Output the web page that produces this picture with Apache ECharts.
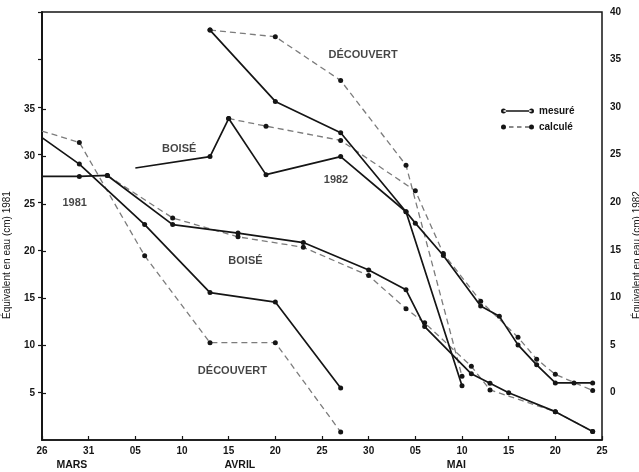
<!DOCTYPE html>
<html><head><meta charset="utf-8">
<script src="https://cdn.jsdelivr.net/npm/echarts@6/dist/echarts.min.js"></script>
<style>html,body{margin:0;padding:0;background:#fff}#c{width:639px;height:472px}</style>
</head><body><div id="c"></div>
<script>
// x = days since 26 March
const xTickLabels = ['26','31','05','10','15','20','25','30','05','10','15','20','25'];
const monthNames = ['MARS','AVRIL','MAI'];
const monthDays = [3.2, 21.2, 44.4];
const leftTicks = [5,10,15,20,25,30,35];
const rightTicks = [0,5,10,15,20,25,30,35,40];

// 1981 (left axis)
const boise81MesDays = [0, 4, 7, 14, 21, 28, 35, 39, 41, 46, 48, 50, 55, 59];
const boise81MesVals = [27.9, 27.9, 28.0, 22.8, 21.9, 20.9, 18.0, 15.9, 12.0, 7.0, 6.0, 5.0, 3.0, 0.9];
const boise81CalDays = [7, 14, 21, 28, 35, 39, 41, 46, 48, 55, 59];
const boise81CalVals = [28.0, 23.5, 21.5, 20.4, 17.4, 13.9, 12.4, 7.8, 5.3, 3.0, 0.9];
const decouv81MesDays = [0, 4, 11, 18, 25, 32];
const decouv81MesVals = [32.0, 29.2, 22.8, 15.6, 14.6, 5.5];
const decouv81CalDays = [0, 4, 11, 18, 25, 32];
const decouv81CalVals = [32.7, 31.5, 19.5, 10.3, 10.3, 0.85];

// 1982 (right axis)
const decouv82MesDays = [18, 25, 32, 39, 45];
const decouv82MesVals = [38.1, 30.6, 27.3, 19.0, 0.7];
const decouv82CalDays = [18, 25, 32, 39, 45];
const decouv82CalVals = [38.1, 37.4, 32.8, 23.9, 1.7];
const boise82MesDays = [10, 18, 20, 24, 32, 39, 40, 43, 47, 49, 51, 53, 55, 57, 59];
const boise82MesVals = [23.6, 24.8, 28.8, 22.9, 24.8, 19.0, 17.8, 14.4, 9.1, 8.0, 5.0, 2.9, 1.0, 1.0, 1.0];
const boise82CalDays = [20, 24, 32, 40, 43, 47, 51, 53, 55, 59];
const boise82CalVals = [28.8, 28.0, 26.5, 21.2, 14.6, 9.6, 5.8, 3.5, 1.9, 0.2];

// text annotations (left-axis coordinates)
const annotDays = [34.4, 14.7, 31.5, 3.5, 21.8, 20.4];
const annotVals = [40.7, 30.8, 27.5, 25.1, 18.9, 7.3];
const annotTexts = ['DÉCOUVERT', 'BOISÉ', '1982', '1981', 'BOISÉ', 'DÉCOUVERT'];

const FONT = "'Liberation Sans', Arial, sans-serif";
const INK = '#151515';
const DASH = '#7c7c7c';

function pts(days, vals, noFirst) {
  return days.map((d, i) => {
    const it = { value: [d, vals[i]] };
    if (noFirst && i === 0) it.symbol = 'none';
    return it;
  });
}
function mes(days, vals, yi, noFirst) {
  return { name: 'mesuré', type: 'line', yAxisIndex: yi, data: pts(days, vals, noFirst),
    symbol: 'circle', symbolSize: 5, z: 3,
    lineStyle: { color: INK, width: 1.7 }, itemStyle: { color: INK }, animation: false };
}
function cal(days, vals, yi, noFirst) {
  return { name: 'calculé', type: 'line', yAxisIndex: yi, data: pts(days, vals, noFirst),
    symbol: 'circle', symbolSize: 5, z: 2,
    lineStyle: { color: DASH, width: 1.3, type: [6, 4] }, itemStyle: { color: INK }, animation: false };
}

const iconSolid = 'path://M0,2.5a2.5,2.5 0 1,0 5,0a2.5,2.5 0 1,0 -5,0Z M2.5,1.8 L30.5,1.8 L30.5,3.2 L2.5,3.2Z M28,2.5a2.5,2.5 0 1,0 5,0a2.5,2.5 0 1,0 -5,0Z';
const iconDash = 'path://M0,2.5a2.5,2.5 0 1,0 5,0a2.5,2.5 0 1,0 -5,0Z M8,1.9 L12.5,1.9 L12.5,3.1 L8,3.1Z M16,1.9 L20.5,1.9 L20.5,3.1 L16,3.1Z M24,1.9 L28,1.9 L28,3.1 L24,3.1Z M28,2.5a2.5,2.5 0 1,0 5,0a2.5,2.5 0 1,0 -5,0Z';

const lab = { fontFamily: FONT, fontSize: 10, fontWeight: 'bold', color: INK };
const tickStyle = (vals) => ({ show: true, inside: false, length: -4, customValues: vals,
  lineStyle: { color: INK, width: 1.2 } });

const chart = echarts.init(document.getElementById('c'), null, { renderer: 'canvas' });
chart.setOption({
  backgroundColor: '#fff',
  animation: false,
  grid: { left: 42, right: 37, top: 12, bottom: 32, containLabel: false, outerBoundsMode: 'none',
    show: true, borderColor: INK, borderWidth: 1.5 },
  legend: {
    orient: 'vertical', left: 496, top: 101, itemWidth: 33, itemHeight: 5, itemGap: 6,
    textStyle: { fontFamily: FONT, fontSize: 10, fontWeight: 'bold', color: INK },
    data: [
      { name: 'mesuré', icon: iconSolid, itemStyle: { color: INK } },
      { name: 'calculé', icon: iconDash, itemStyle: { color: INK } }
    ],
    selectedMode: false
  },
  xAxis: [
    { type: 'value', min: 0, max: 60, interval: 5,
      axisLine: { show: true, lineStyle: { color: INK, width: 1.5 } },
      axisTick: { show: true, inside: false, length: -4, lineStyle: { color: INK, width: 1.2 } },
      splitLine: { show: false },
      axisLabel: Object.assign({ margin: 6, formatter: v => xTickLabels[Math.round(v / 5)] }, lab) },
    { type: 'value', min: 0, max: 60, position: 'bottom', offset: 14,
      axisLine: { show: false }, axisTick: { show: false }, splitLine: { show: false },
      axisLabel: Object.assign({ margin: 6, customValues: monthDays,
        formatter: v => monthNames[monthDays.indexOf(v)] }, lab, { fontSize: 10.5 }) }
  ],
  yAxis: [
    { type: 'value', min: 0, max: 45.3, position: 'left',
      name: 'Équivalent en eau (cm) 1981', nameLocation: 'middle', nameGap: 30, nameRotate: 90,
      nameTextStyle: { fontFamily: FONT, fontSize: 10, color: INK, padding: [0, 58, 0, 0] },
      axisLine: { show: true, lineStyle: { color: INK, width: 1.5 } },
      axisTick: tickStyle(leftTicks),
      splitLine: { show: false },
      axisLabel: Object.assign({ margin: 7, customValues: leftTicks }, lab) },
    { type: 'value', min: -5, max: 40, position: 'right',
      name: 'Équivalent en eau (cm) 1982', nameLocation: 'middle', nameGap: 27, nameRotate: 90,
      nameTextStyle: { fontFamily: FONT, fontSize: 10, color: INK, padding: [0, 58, 0, 0] },
      axisLine: { show: true, lineStyle: { color: INK, width: 1.5 } },
      axisTick: tickStyle(rightTicks),
      splitLine: { show: false },
      axisLabel: Object.assign({ margin: 8, customValues: rightTicks }, lab) }
  ],
  series: [
    cal(decouv81CalDays, decouv81CalVals, 0, true),
    cal(boise81CalDays, boise81CalVals, 0, false),
    cal(decouv82CalDays, decouv82CalVals, 1, false),
    cal(boise82CalDays, boise82CalVals, 1, false),
    mes(decouv81MesDays, decouv81MesVals, 0, true),
    mes(boise81MesDays, boise81MesVals, 0, true),
    mes(decouv82MesDays, decouv82MesVals, 1, false),
    mes(boise82MesDays, boise82MesVals, 1, true),
    { type: 'scatter', yAxisIndex: 0, symbolSize: 0, silent: true, z: 5,
      data: annotDays.map((d, i) => ({ value: [d, annotVals[i]], name: annotTexts[i] })),
      label: { show: true, position: 'inside', formatter: p => p.name,
        fontFamily: FONT, fontSize: 11, fontWeight: 'bold', color: INK } }
  ]
});
</script>
</body></html>
